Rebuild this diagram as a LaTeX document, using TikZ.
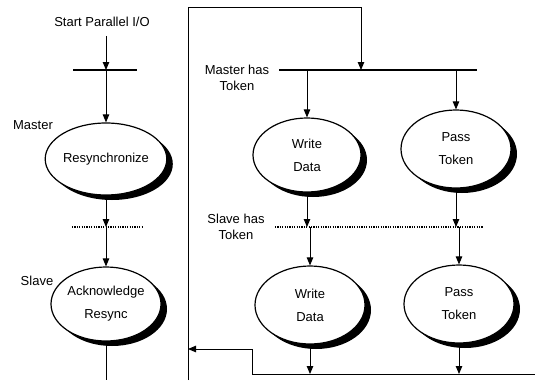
\documentclass[tikz,border=0pt]{standalone}
\usepackage{fontspec}
\setmainfont{Liberation Sans}
\usetikzlibrary{shapes.geometric,arrows.meta,shadows}
\tikzset{
  state/.style={ellipse, draw, line width=1.2pt, fill=white, inner sep=0pt, align=center,
    font=\fontsize{13}{23}\selectfont,
    drop shadow={shadow xshift=6pt, shadow yshift=-5pt, fill=black, opacity=1}},
  arr/.style={-{Triangle[length=8pt,width=6.5pt]}, line width=0.9pt},
  link/.style={line width=0.9pt},
  bar/.style={line width=2.5pt},
  sync/.style={line width=2pt, dash pattern=on 1.2pt off 1.2pt},
  lbl/.style={font=\fontsize{13}{16}\selectfont, align=center, inner sep=0pt}
}
\begin{document}
\begin{tikzpicture}[x=1pt,y=-1pt]
  \useasboundingbox (0,0) rectangle (535,380);
  \coordinate (bottom) at (0,380);
  % left column: master / slave resync
  \node[lbl] (start) at (102,22) {Start Parallel I/O};
  \node[lbl] (mlbl) at (33,125) {Master};
  \node[lbl] (slbl) at (37,281) {Slave};
  \node[state, minimum width=105pt, minimum height=72pt] (resync) at (106,159) {Resynchronize};
  \node[state, minimum width=110pt, minimum height=74pt] (ack) at (106,304) {Acknowledge\\Resync};
  \draw[bar] (73,70) -- (137,70);
  \coordinate (sbar) at (106,70);
  \draw[sync] (72,227) -- (143,227);
  \coordinate (ssync) at (106,227);
  \draw[arr, shorten <=9pt] (sbar |- start.south) -- (sbar);
  \draw[arr] (sbar) -- (resync.north);
  \draw[arr] (resync.south) -- (ssync);
  \draw[arr] (ssync) -- (ack.north);
  \draw[link] (ack.south) -- (ack.south |- bottom);
  % right part: token passing
  \coordinate (ftl) at (188,7);
  \coordinate (fbl) at (188,380);
  \coordinate (mbar) at (361,70);
  \coordinate (tsync) at (0,227);
  \coordinate (ret) at (252,374);
  \coordinate (back) at (0,349);
  \draw[bar] (279,70) -- (477,70);
  \node[lbl] (mhas) at (237,78) {Master has\\Token};
  \draw[link] (fbl) -- (ftl) -- (ftl -| mbar);
  \draw[arr] (ftl -| mbar) -- (mbar);
  \node[state, minimum width=108pt, minimum height=74pt] (wd1) at (307,155) {Write\\Data};
  \node[state, minimum width=110pt, minimum height=78pt] (pt1) at (456,149) {Pass\\Token};
  \draw[arr] (wd1.north |- mbar) -- (wd1.north);
  \draw[arr] (pt1.north |- mbar) -- (pt1.north);
  \draw[sync] (275,227) -- (483,227);
  \node[lbl] (shas) at (236,227) {Slave has\\Token};
  \node[state, minimum width=110pt, minimum height=78pt] (wd2) at (310,305) {Write\\Data};
  \node[state, minimum width=110pt, minimum height=78pt] (pt2) at (459,304) {Pass\\Token};
  \draw[arr] (wd1.south) -- (wd1.south |- tsync);
  \draw[arr] (wd2.north |- tsync) -- (wd2.north);
  \draw[arr] (pt1.south) -- (pt1.south |- tsync);
  \draw[arr] (pt2.north |- tsync) -- (pt2.north);
  \draw[arr] (wd2.south) -- (wd2.south |- ret);
  \draw[arr] (pt2.south) -- (pt2.south |- ret);
  \draw[link] (535,374) -- (ret) -- (ret |- back);
  \draw[arr] (ret |- back) -- (fbl |- back);
\end{tikzpicture}
\end{document}
